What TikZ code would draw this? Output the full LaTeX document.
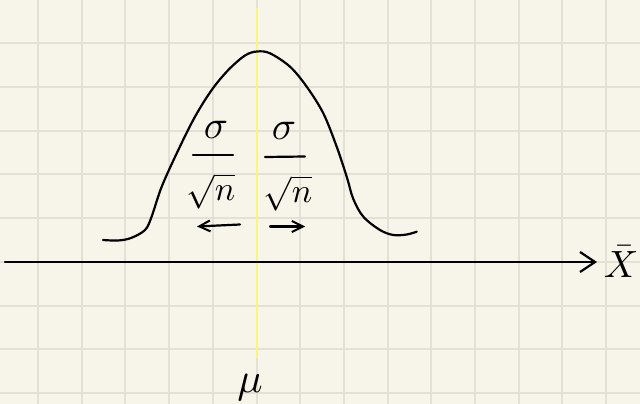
\documentclass[tikz,border=0pt]{standalone}
\usetikzlibrary{arrows.meta}
\definecolor{paper}{RGB}{247,245,234}
\definecolor{gridc}{RGB}{227,225,213}
\definecolor{ylw}{RGB}{246,245,140}
\tikzset{
  gridline/.style={draw=gridc,line width=2pt},
  ink/.style={draw=black,line width=2.2pt,line cap=round,line join=round},
  chev/.style={-{Straight Barb[length=#1,width=11pt,line width=2pt]}},
  txt/.style={inner sep=0pt,text=black},
}
\begin{document}
\begin{tikzpicture}[x=1pt,y=-1pt]
\fill[paper] (0,0) rectangle (640,404);
\useasboundingbox (0,0) rectangle (640,404);
% grid
\foreach \i in {0,...,13} { \draw[gridline] ({38+43.7*\i},0) -- ({38+43.7*\i},404); }
\foreach \j in {0,...,8} { \draw[gridline] (0,{43.3+43.7*\j}) -- (640,{43.3+43.7*\j}); }
% yellow mean line
\coordinate (ytop) at (257,8);
\coordinate (ybot) at (257,358);
\draw[draw=ylw,line width=2.5pt] (ytop) -- (ybot);
% axis
\coordinate (axL) at (5,262);
\coordinate (axR) at (597,262);
\draw[ink,-{Straight Barb[length=15pt,width=20pt,line width=2.2pt]}] (axL) -- (axR);
% bell curve
\draw[ink] plot[smooth,tension=0.55] coordinates {
(103,240) (118,240.5) (131,238) (145,230) (151.5,217) (161.7,186.7) (178.3,150)
(195,116.7) (211.7,90) (228.3,70) (245,55.5) (257,51.5) (270,53.3) (290,66.7)
(306.7,86.7) (323.3,113.3) (336.7,146.7) (346.7,176.7) (353.3,199) (363.3,216.7)
(380,230) (393.3,235) (406.7,234.5) (416.7,231.7)};
% left fraction
\node[txt,scale=4] (sL) at (216,130) {$\sigma$};
\coordinate (bL1) at (193,155); \coordinate (bL2) at (233,155);
\draw[ink] (bL1) -- (bL2);
\node[txt,scale=3.4] (rL) at (211,191) {$\sqrt{n}$};
\coordinate (aL1) at (240,224.5); \coordinate (aL2) at (197,226.5);
\draw[ink,chev=11pt] (aL1) -- (aL2);
% right fraction
\node[txt,scale=4] (sR) at (284,131) {$\sigma$};
\coordinate (bR1) at (265,157); \coordinate (bR2) at (305,156.5);
\draw[ink] (bR1) -- (bR2);
\node[txt,scale=3.4] (rR) at (288,193) {$\sqrt{n}$};
\coordinate (aR1) at (270,226.5); \coordinate (aR2) at (305,226.5);
\draw[ink,chev=11pt] (aR1) -- (aR2);
% labels
\node[txt,scale=4.2] (mu) at (250,388) {$\mu$};
\node[txt,scale=3.8] (xbar) at (621,262) {$\bar{X}$};
\end{tikzpicture}
\end{document}
